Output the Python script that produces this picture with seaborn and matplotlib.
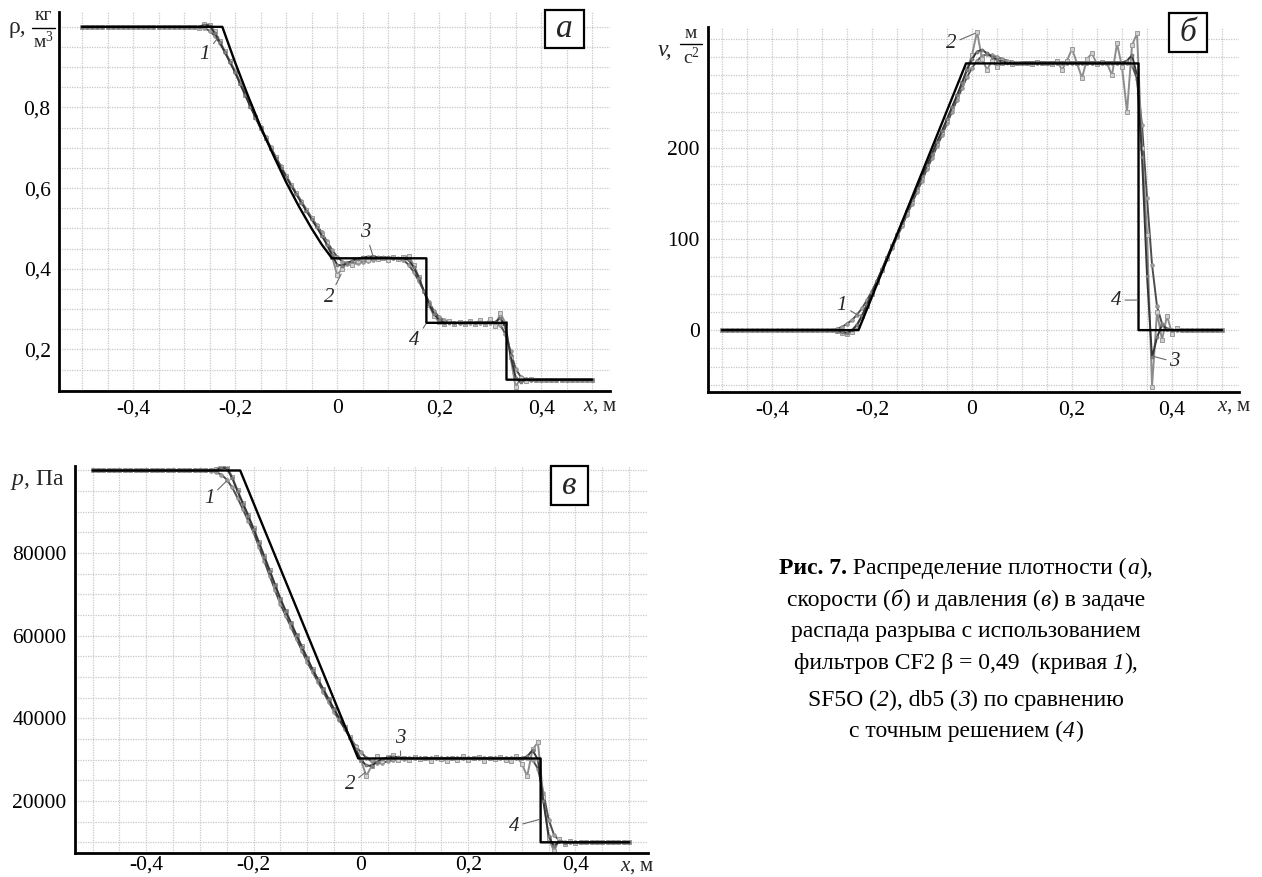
import numpy as np
import pandas as pd
import seaborn as sns
import matplotlib
matplotlib.use('Agg')
import matplotlib.pyplot as plt
from matplotlib.lines import Line2D
from matplotlib.patches import Rectangle
from matplotlib.offsetbox import TextArea, HPacker, AnnotationBbox
from matplotlib.ticker import MultipleLocator, FixedLocator, FuncFormatter

# grid of the numerical solution (step 0.01 m)
X_GRID = np.round(np.linspace(-0.5, 0.5, 101), 2)

# --- density, kg/m^3 ---
RHO_1 = ([1.0] * 24
         + [0.997, 0.99, 0.978, 0.96, 0.938, 0.914, 0.889, 0.862, 0.834, 0.806,
            0.779, 0.752, 0.726, 0.701, 0.677, 0.654, 0.631, 0.609, 0.588, 0.567,
            0.547, 0.527, 0.508, 0.49, 0.468, 0.447]
         + [0.43, 0.418, 0.412, 0.412, 0.414, 0.417, 0.42, 0.423, 0.425, 0.426, 0.426, 0.426, 0.425]
         + [0.422, 0.41, 0.393, 0.37, 0.345, 0.318, 0.295, 0.28, 0.272, 0.268]
         + [0.266] * 8
         + [0.265, 0.26, 0.238, 0.195, 0.152, 0.132, 0.126]
         + [0.125] * 13)
RHO_2 = ([1.0] * 23
         + [0.998, 1.008, 1.005, 0.99, 0.965, 0.94, 0.915, 0.89, 0.86, 0.832,
            0.804, 0.777, 0.75, 0.725, 0.7, 0.676, 0.653, 0.63, 0.608, 0.587,
            0.566, 0.545, 0.525, 0.505, 0.485, 0.463, 0.43]
         + [0.385, 0.4, 0.415, 0.41, 0.42, 0.426, 0.421, 0.43, 0.424, 0.427, 0.423, 0.429, 0.425, 0.428]
         + [0.432, 0.41, 0.38, 0.345, 0.31, 0.283, 0.268, 0.262]
         + [0.27, 0.263, 0.268, 0.262, 0.27, 0.264, 0.272, 0.262, 0.275]
         + [0.258, 0.29, 0.265, 0.18, 0.106, 0.13, 0.122, 0.127]
         + [0.125] * 12)
RHO_3 = ([1.0] * 23
         + [1.0, 1.005, 1.003, 0.985, 0.962, 0.937, 0.912, 0.887, 0.858, 0.83,
            0.802, 0.775, 0.748, 0.723, 0.698, 0.674, 0.651, 0.628, 0.606, 0.585,
            0.564, 0.543, 0.523, 0.503, 0.482, 0.46, 0.435]
         + [0.41, 0.408, 0.414, 0.42, 0.425, 0.428, 0.43, 0.43, 0.429, 0.428, 0.428, 0.427, 0.427, 0.426]
         + [0.422, 0.405, 0.378, 0.345, 0.313, 0.288, 0.273, 0.266]
         + [0.266, 0.266, 0.266, 0.266, 0.267, 0.266, 0.267, 0.266, 0.267]
         + [0.268, 0.278, 0.255, 0.185, 0.13, 0.118, 0.126, 0.125]
         + [0.125] * 12)
RHO_EXACT_X = [-0.5, -0.225, -0.2, -0.175, -0.15, -0.125, -0.1, -0.075, -0.05, -0.03, -0.01,
               0.175, 0.175, 0.332, 0.332, 0.5]
RHO_EXACT = [1.0, 1.0, 0.912, 0.83, 0.752, 0.682, 0.615, 0.555, 0.5, 0.46, 0.426,
             0.426, 0.266, 0.266, 0.125, 0.125]

# --- velocity, m/s ---
V_1 = ([0.0] * 22
       + [0.5, 1.5, 3.5, 7, 11, 17, 24, 33, 43, 54,
          66, 78, 90, 102, 114, 127, 139, 152, 164, 177,
          189, 202, 214, 227, 240, 253, 266, 278]
       + [288, 296, 301, 303, 302, 300, 298, 296, 295, 294]
       + [294] * 22
       + [291, 276, 225, 145, 72, 26, 7, 1.5]
       + [0.0] * 11)
V_2 = ([0.0] * 23
       + [-1, -3, -4, -2, 5, 15, 27, 40, 53, 66,
          79, 92, 104, 117, 130, 142, 155, 168, 180, 193,
          206, 218, 231, 244, 257, 271, 287]
       + [302, 328, 298, 286, 296, 289, 293, 295, 292, 294, 293, 294, 292, 295, 293, 294, 292, 296]
       + [286, 296, 309, 293, 277, 298, 304, 292, 295, 293, 280, 315, 289, 240, 313]
       + [326, 200, 105, -62, 20, -11, 16, -4, 2]
       + [0.0] * 9)
V_3 = ([0.0] * 23
       + [-0.5, -2, -3, 0, 6, 16, 28, 41, 54, 67,
          80, 93, 105, 118, 131, 143, 156, 169, 181, 194,
          207, 219, 232, 245, 258, 272, 286]
       + [298, 306, 308, 304, 300, 297, 295, 294, 293, 293]
       + [294] * 21
       + [296, 302, 280, 190, 60, -30, -8, 6, 1, 0]
       + [0.0] * 10)
V_EXACT_X = [-0.5, -0.227, -0.012, 0.333, 0.333, 0.5]
V_EXACT = [0, 0, 293, 293, 0, 0]

# --- pressure, Pa ---
P_1 = ([100000] * 22
       + [99900, 99600, 99000, 97800, 95900, 93400, 90600, 87800, 85000, 81500,
          78000, 74500, 71000, 67600, 64800, 62000, 59200, 56400, 53600, 51200,
          48800, 46400, 44000, 41600, 39500, 37400, 35300, 33400]
       + [31800, 30500, 29600, 29200, 29300, 29600, 29900, 30100, 30200]
       + [30300] * 23
       + [30000, 27800, 22000, 15500, 11800, 10400, 10050]
       + [10000] * 12)
P_2 = ([100000] * 23
       + [100300, 101200, 101000, 98500, 95200, 92200, 89200, 86000, 82700, 79300,
          75900, 72400, 69000, 66000, 63100, 60200, 57400, 54600, 51900, 49500,
          47100, 44700, 42300, 40000, 37800, 35500, 33000]
       + [30000, 26000, 28500, 30800, 29800, 30600, 31200, 30000, 30500, 29900, 30700, 30100, 30400, 29800]
       + [30600, 30200, 29700, 30500, 30000, 30800, 29900, 30300, 30600, 29800, 30400, 30100, 30700, 30000]
       + [29800, 30900, 29000, 26000, 32500, 34200, 21000, 11000, 7800, 10800, 9700]
       + [10200, 9900] + [10000] * 10)
P_3 = ([100000] * 23
       + [100100, 100700, 100500, 98200, 95000, 92000, 89000, 85800, 82500, 79100,
          75700, 72300, 68900, 65900, 63000, 60100, 57300, 54500, 51800, 49400,
          47000, 44600, 42200, 39900, 37600, 35200, 32500]
       + [30000, 28600, 28500, 29500, 30200, 30500, 30700, 30600, 30400]
       + [30300] * 22
       + [30800, 32300, 30000, 20000, 11500, 9000, 10300, 9900, 10000]
       + [10000] * 11)
P_EXACT_X = [-0.5, -0.225, -0.005, 0.335, 0.335, 0.5]
P_EXACT = [100000, 100000, 30300, 30300, 10000, 10000]

# curve labels: (text, point on curve, text position)
LABELS_A = [('1', (-0.232, 0.975), (-0.259, 0.932)), ('3', (0.07, 0.433), (0.056, 0.49)),
            ('2', (0.008, 0.387), (-0.015, 0.329)), ('4', (0.174, 0.263), (0.152, 0.221))]
LABELS_B = [('2', (0.006, 326), (-0.041, 315)), ('1', (-0.227, 16), (-0.26, 27)),
            ('4', (0.332, 33), (0.289, 33)), ('3', (0.364, -29), (0.405, -35))]
LABELS_C = [('1', (-0.25, 97500), (-0.283, 93300)), ('3', (0.074, 31000), (0.073, 35200)),
            ('2', (0.009, 27000), (-0.02, 24000)), ('4', (0.332, 15500), (0.286, 13900))]

# caption pieces: n - normal, i - italic, b - bold
CAPTION = [[('Рис. 7.', 'b'), (' Распределение плотности (', 'n'), ('а', 'i'), ('),', 'n')],
           [('скорости (', 'n'), ('б', 'i'), (') и давления (', 'n'), ('в', 'i'), (') в задаче', 'n')],
           [('распада разрыва с использованием', 'n')],
           [('фильтров CF2 β = 0,49  (кривая', 'n'), (' 1', 'i'), ('),', 'n')],
           [('SF5O (', 'n'), ('2', 'i'), ('), db5 (', 'n'), ('3', 'i'), (') по сравнению', 'n')],
           [('с точным решением (', 'n'), ('4', 'i'), (')', 'n')]]

sns.set_theme(style='white')
plt.rcParams['font.family'] = ['Liberation Serif', 'DejaVu Serif']
plt.rcParams['mathtext.fontset'] = 'custom'
plt.rcParams['mathtext.rm'] = 'Liberation Serif'
plt.rcParams['mathtext.it'] = 'Liberation Serif:italic'
plt.rcParams['mathtext.bf'] = 'Liberation Serif:bold'

STYLES = [dict(color='#4d4d4d', lw=1.4, marker='o', markersize=2.6,
               markerfacecolor='#a0a0a0', markeredgecolor='#8a8a8a', markeredgewidth=0.6),
          dict(color='#8c8c8c', lw=1.4, marker='s', markersize=2.8,
               markerfacecolor='#d0d0d0', markeredgecolor='#9a9a9a', markeredgewidth=0.7),
          dict(color='#363636', lw=1.4, marker='o', markersize=2.2,
               markerfacecolor='#808080', markeredgecolor='#707070', markeredgewidth=0.5)]

W, H = 1262.0, 877.0


def fx(px):
    return px / W


def fy(py):
    return 1 - py / H


def comma_fmt(v, pos):
    return ('%g' % (round(v, 3) + 0.0)).replace('.', ',')


def draw_panel(ax, curves, ex_x, ex_y, labels, xpad=6):
    ax.set_axisbelow(True)
    for y, st in zip(curves, STYLES):
        df = pd.DataFrame({'x': X_GRID, 'y': y})
        sns.lineplot(data=df, x='x', y='y', ax=ax, estimator=None, sort=False, **st)
    sns.lineplot(x=ex_x, y=ex_y, ax=ax, estimator=None, sort=False, color='black', lw=1.7)
    ax.set_xlabel('')
    ax.set_ylabel('')
    for side in ['top', 'right']:
        ax.spines[side].set_visible(False)
    for side in ['left', 'bottom']:
        ax.spines[side].set_color('black')
        ax.spines[side].set_linewidth(2.0)
    ax.xaxis.set_major_locator(FixedLocator([-0.4, -0.2, 0.0, 0.2, 0.4]))
    ax.xaxis.set_minor_locator(MultipleLocator(0.05))
    ax.xaxis.set_major_formatter(FuncFormatter(comma_fmt))
    ax.grid(True, which='both', color='#c8c8c8', linestyle=(0, (1, 1)), linewidth=0.9)
    ax.tick_params(which='major', direction='in', length=7, width=1.5, colors='black',
                   labelsize=15.5, pad=6)
    ax.tick_params(axis='x', which='major', pad=xpad)
    ax.tick_params(which='minor', direction='in', length=3.5, width=1.0, colors='black')
    for txt, xy, xyt in labels:
        ax.annotate(txt, xy=xy, xytext=xyt, fontsize=15, style='italic', ha='center', va='center',
                    arrowprops=dict(arrowstyle='-', color='#6a6a6a', lw=0.8,
                                    shrinkA=0, shrinkB=0))


def unit_fraction(lead, lead_x, lead_y, num, den, x0, x1, y_num, y_bar, y_den, lead_style):
    # quantity symbol followed by a stacked unit fraction
    fig.text(fx(lead_x), fy(lead_y), lead, fontsize=17, ha='left', va='center', style=lead_style)
    xc = fx((x0 + x1) / 2)
    fig.text(xc, fy(y_num), num, fontsize=14, ha='center', va='center')
    fig.text(xc, fy(y_den), den, fontsize=14, ha='center', va='center')
    fig.add_artist(Line2D([fx(x0), fx(x1)], [fy(y_bar), fy(y_bar)], transform=fig.transFigure,
                          color='black', lw=1.0))


fig = plt.figure(figsize=(12.62, 8.77), dpi=100)
fig.patch.set_facecolor('white')

ax_a = fig.add_axes([0.0468, 0.5542, 0.4366, 0.4322])
ax_b = fig.add_axes([0.5610, 0.5530, 0.4208, 0.4162])
ax_c = fig.add_axes([0.0594, 0.0274, 0.4540, 0.4413])

draw_panel(ax_a, [RHO_1, RHO_2, RHO_3], RHO_EXACT_X, RHO_EXACT, LABELS_A)
ax_a.set_xlim(-0.545, 0.535)
ax_a.set_ylim(0.097, 1.037)
ax_a.yaxis.set_major_locator(FixedLocator([0.2, 0.4, 0.6, 0.8]))
ax_a.yaxis.set_minor_locator(MultipleLocator(0.05))
ax_a.yaxis.set_major_formatter(FuncFormatter(comma_fmt))

draw_panel(ax_b, [V_1, V_2, V_3], V_EXACT_X, V_EXACT, LABELS_B)
ax_b.set_xlim(-0.528, 0.534)
ax_b.set_ylim(-68, 333)
ax_b.yaxis.set_major_locator(FixedLocator([0, 100, 200]))
ax_b.yaxis.set_minor_locator(MultipleLocator(20))
ax_b.yaxis.set_major_formatter(FuncFormatter(comma_fmt))

draw_panel(ax_c, [P_1, P_2, P_3], P_EXACT_X, P_EXACT, LABELS_C, xpad=2)
ax_c.set_xlim(-0.533, 0.535)
ax_c.set_ylim(7420, 101100)
ax_c.yaxis.set_major_locator(FixedLocator([20000, 40000, 60000, 80000]))
ax_c.yaxis.set_minor_locator(MultipleLocator(5000))
ax_c.yaxis.set_major_formatter(FuncFormatter(lambda v, p: '%d' % v))

# axis captions
unit_fraction('ρ,', 9, 27, 'кг', r'м$^3$', 32, 55, 16, 28, 41, 'normal')
unit_fraction('v,', 658, 50, 'м', r'с$^2$', 680, 702, 33, 44, 57, 'italic')
fig.text(0.008, 0.4527, r'$p$, Па', fontsize=17, ha='left', va='center')
for xf, yf in [(0.462, 0.536), (0.9643, 0.536), (0.491, 0.0125)]:
    fig.text(xf, yf, r'$x$, м', fontsize=15, ha='left', va='center')

# panel letters in boxes (pixel boxes of the reference)
for letter, (x0, y0, x1, y1) in [('а', (545, 10, 584, 48)), ('б', (1169, 13, 1207, 52)),
                                 ('в', (551, 466, 588, 505))]:
    fig.patches.append(Rectangle((fx(x0), fy(y1)), (x1 - x0) / W, (y1 - y0) / H,
                                 transform=fig.transFigure, fill=True, facecolor='white',
                                 edgecolor='black', lw=1.6, zorder=5))
    fig.text(fx((x0 + x1) / 2), fy((y0 + y1) / 2), letter, fontsize=24, style='italic',
             ha='center', va='center', zorder=6)

# figure caption, each line packed from pieces with their own font style
PIECE_STYLE = {'n': {}, 'i': {'fontstyle': 'italic'}, 'b': {'fontweight': 'bold'}}
for pieces, yc in zip(CAPTION, [568, 600, 632, 663, 700, 731]):
    boxes = [TextArea(t, textprops=dict(fontsize=17, color='black', **PIECE_STYLE[s]))
             for t, s in pieces]
    line = HPacker(children=boxes, align='baseline', pad=0, sep=0)
    fig.add_artist(AnnotationBbox(line, (fx(966), fy(yc)), xycoords='figure fraction',
                                  box_alignment=(0.5, 0.5), frameon=False, pad=0))

fig.savefig('out.png', dpi=100, facecolor='white')
